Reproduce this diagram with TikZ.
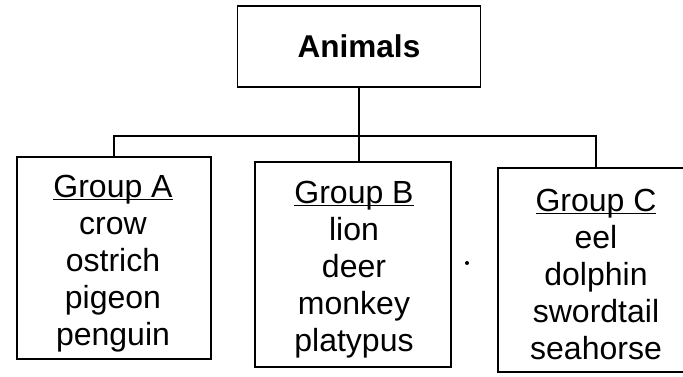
\documentclass[tikz,border=0pt]{standalone}
\usepackage{fontspec}
\setmainfont{Liberation Sans}
\newcommand{\hd}[1]{\underline{\smash{#1}}}
\begin{document}
\begin{tikzpicture}[x=1pt,y=-1pt,
  box/.style={draw,line width=1.8pt,inner sep=0pt},
  txt/.style={inner sep=0pt,align=center,font=\fontsize{32}{37}\selectfont},
  conn/.style={line width=1.8pt}]
\useasboundingbox (0,0) rectangle (683,376);
\node[box,minimum width=243pt,minimum height=81pt,
  font=\fontsize{31.5}{37}\selectfont\bfseries] (top) at (359,46.5) {Animals};
\node[box,minimum width=194pt,minimum height=202pt] (A) at (114,258) {};
\node[box,minimum width=196pt,minimum height=205pt] (B) at (353,264.5) {};
\node[box,minimum width=196pt,minimum height=204pt] (C) at (596,270) {};
\node[txt] (At) at (113,275) {\hd{Group A}\\crow\\ostrich\\pigeon\\penguin};
\node[txt] (Bt) at (354,281) {\hd{Group B}\\lion\\deer\\monkey\\platypus};
\node[txt] (Ct) at (596,286) {\hd{Group C}\\eel\\dolphin\\swordtail\\seahorse};
\coordinate (bus) at (358,136);
\draw[conn] (top.south) -- (top.south |- B.north);
\draw[conn] (A.north) |- (bus) -| (C.north);
\fill (467,263) circle (2pt);
\end{tikzpicture}
\end{document}
